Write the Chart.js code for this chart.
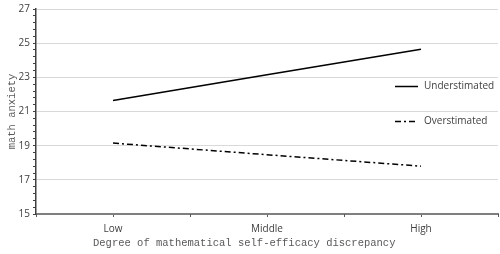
<!DOCTYPE html>
<html><head><meta charset="utf-8">
<script src="https://cdn.jsdelivr.net/npm/chart.js@4/dist/chart.umd.min.js"></script>
<style>html,body{margin:0;padding:0;background:#fff}#wrap{width:500px;height:254px}</style>
</head><body><div id="wrap"><canvas id="c" width="500" height="254"></canvas></div>
<script>
const categories = ["Low", "Middle", "High"];
const understimated = [21.65, 23.15, 24.65];
const overstimated = [19.15, 18.47, 17.8];
const seriesNames = ["Understimated", "Overstimated"];
const yMin = 15, yMax = 27, yMajorStep = 2, yMinorStep = 0.4;
const xTitle = "Degree of mathematical self-efficacy discrepancy";
const yTitle = "math anxiety";

const isMajor = v => {
  const r = Math.round(v);
  return Math.abs(v - r) < 1e-6 && ((r - yMin) % yMajorStep === 0);
};

const extras = {
  id: 'extras',
  afterDraw(chart) {
    const ctx = chart.ctx, ca = chart.chartArea, xs = chart.scales.x;
    ctx.save();
    ctx.strokeStyle = '#595959'; ctx.lineWidth = 1;
    const half = (xs.getPixelForValue(1) - xs.getPixelForValue(0)) / 2;
    for (let i = 0; i < categories.length; i++) {
      for (const px of [xs.getPixelForValue(i) - half, xs.getPixelForValue(i) + half]) {
        ctx.beginPath(); ctx.moveTo(Math.round(px) + 0.5, ca.bottom); ctx.lineTo(Math.round(px) + 0.5, ca.bottom + 3); ctx.stroke();
      }
    }
    ctx.fillStyle = '#595959';
    ctx.font = '10.5px "Liberation Mono", monospace';
    ctx.textAlign = 'left'; ctx.textBaseline = 'middle';
    ctx.fillText(xTitle, 93, 243);
    ctx.save();
    ctx.translate(12, (ca.top + ca.bottom) / 2);
    ctx.rotate(-Math.PI / 2);
    ctx.textAlign = 'center';
    ctx.fillText(yTitle, 0, 0);
    ctx.restore();
    const ys = chart.scales.y;
    const lx = ca.right - 103;
    const legendVals = [22.5, 20.45];
    chart.data.datasets.forEach((ds, i) => {
      const y = Math.round(ys.getPixelForValue(legendVals[i])) + 0.5;
      ctx.strokeStyle = ds.borderColor; ctx.lineWidth = 1.5;
      ctx.setLineDash(ds.borderDash || []);
      ctx.beginPath(); ctx.moveTo(lx, y); ctx.lineTo(lx + 23, y); ctx.stroke();
      ctx.setLineDash([]);
      ctx.fillStyle = '#404040';
      ctx.font = '10px "Open Sans", sans-serif';
      ctx.textAlign = 'left'; ctx.textBaseline = 'middle';
      ctx.fillText(ds.label, lx + 29, y);
    });
    ctx.restore();
  }
};

new Chart(document.getElementById('c'), {
  type: 'line',
  data: {
    labels: categories,
    datasets: [
      { label: seriesNames[0], data: understimated, borderColor: '#000', borderWidth: 1.5, pointRadius: 0, fill: false, tension: 0 },
      { label: seriesNames[1], data: overstimated, borderColor: '#000', borderWidth: 1.5, borderDash: [6, 3, 2, 3], pointRadius: 0, fill: false, tension: 0 }
    ]
  },
  options: {
    responsive: false, animation: false,
    layout: { padding: { top: 3, right: 2, left: 0, bottom: 0 } },
    plugins: { legend: { display: false }, tooltip: { enabled: false } },
    scales: {
      x: {
        offset: true,
        grid: { display: true, drawOnChartArea: false, offset: false, tickLength: 3, tickColor: '#595959' },
        border: { display: true, color: '#7f7f7f', width: 2 },
        ticks: { color: '#404040', font: { family: '"Open Sans", sans-serif', size: 10 }, padding: 6 },
        afterFit(s) { s.height = 40; }
      },
      y: {
        min: yMin, max: yMax,
        grid: {
          color: c => isMajor(c.tick.value) && c.tick.value !== yMin ? '#d9d9d9' : 'transparent',
          tickColor: '#404040', tickLength: 3, lineWidth: 1
        },
        border: { display: true, color: '#404040', width: 1.5 },
        ticks: {
          stepSize: yMinorStep, autoSkip: false,
          color: '#404040', font: { family: '"Open Sans", sans-serif', size: 10 }, padding: 3,
          callback: v => isMajor(v) ? String(Math.round(v)) : ''
        },
        afterFit(s) { s.width = 36; }
      }
    }
  },
  plugins: [extras]
});
</script>
</body></html>
